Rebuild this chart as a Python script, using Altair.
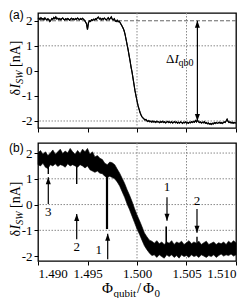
import altair as alt
import pandas as pd

FONT = "Liberation Serif"
SANS = "Liberation Sans"

X_START = 1.490
A_STEP = 0.0001
B_STEP = 0.00025
W, HA, HB = 198, 115, 118

# ---------------- panel (a): single trace, 1.4900 ... 1.5100 step 0.0001
ya_left = [
    2.08, 2.10, 2.05, 2.12, 2.06, 2.09, 2.04, 2.11, 2.07, 2.03,
    2.08, 2.05, 1.97, 2.02, 2.09, 2.06, 2.13, 2.08, 2.15, 2.07,
    2.10, 2.05, 2.09, 2.04, 2.08, 2.11, 2.06, 2.03, 2.08, 2.05,
    2.09, 2.06, 2.02, 2.07, 2.10, 2.05, 2.08, 2.04, 2.09, 2.06,
    2.11, 2.07, 2.04, 2.09, 2.05, 2.10, 2.06, 2.02, 1.95, 1.88,
    1.65, 1.92, 2.00, 1.97, 2.04, 2.01, 2.06, 2.03, 2.08, 2.05,
    2.12, 2.15, 2.07, 2.10, 2.04, 2.09, 2.06, 2.11, 2.07, 2.03,
    2.08, 2.12, 2.05, 2.09, 2.15, 2.06, 2.03, 2.08, 2.00, 1.97,
    2.02, 1.96,
]
ya_step = [
    1.98, 1.92, 1.85, 1.78, 1.70, 1.60, 1.45, 1.25, 1.05, 0.85,
    0.62, 0.40, 0.15, -0.05, -0.30, -0.55, -0.80, -1.00, -1.20, -1.38,
    -1.52, -1.65, -1.75, -1.83, -1.88, -1.92, -1.96, -1.94, -1.99, -2.02,
]
ya_right = [
    -1.98, -2.03, -2.01, -2.05, -2.00, -2.04, -2.02, -2.06, -2.01, -2.04,
    -2.03, -2.07, -2.02, -2.05, -2.01, -2.06, -2.03, -2.08, -2.04, -2.02,
    -2.06, -2.04, -2.07, -2.03, -2.08, -2.05, -2.03, -2.07, -2.04, -2.09,
    -2.05, -2.08, -2.04, -2.06, -2.10, -2.05, -2.07, -2.04, -2.08, -2.06,
    -2.09, -2.05, -2.07, -2.03, -2.06, -2.02, -2.05, -1.98, -2.04, -1.96,
    -2.03, -2.06, -2.04, -2.08, -2.05, -2.07, -2.03, -2.09, -2.06, -2.11,
    -2.08, -2.12, -2.10, -2.14, -2.09, -2.12, -2.07, -2.10, -2.06, -2.09,
    -2.08, -2.05, -2.09, -2.06, -2.10, -2.07, -2.04, -2.06, -2.00, -1.93,
    -2.02, -2.06, -2.04, -2.08, -2.05, -2.09, -2.06, -2.08, -2.07,
]
ya = ya_left + ya_step + ya_right

# ---------------- panel (b): noisy band (upper / lower edge), step 0.00025
b_hi = [
    2.00, 2.10, 1.95, 2.05, 1.90, 2.00, 2.12, 1.95, 2.05, 2.15,
    1.98, 2.08, 2.00, 2.18, 2.05, 1.95, 2.10, 1.98, 2.15, 2.05,
    2.18, 1.95, 2.05, 1.85, 1.90, 1.80, 1.75, 1.60, 1.55, 1.65,
    1.62, 1.55, 1.38, 1.22, 1.02, 0.82, 0.58, 0.36, 0.12, -0.15,
    -0.40, -0.62, -0.85, -1.10, -1.25, -1.38, -1.42, -1.50, -1.40, -1.52,
    -1.45, -1.55, -1.45, -1.50, -1.40, -1.55, -1.45, -1.50, -1.42, -1.55,
    -1.48, -1.40, -1.52, -1.45, -1.50, -1.42, -1.55, -1.48, -1.42, -1.55,
    -1.50, -1.45, -1.55, -1.48, -1.52, -1.45, -1.55, -1.42, -1.50, -1.40,
    -1.48,
]
b_lo = [
    1.55, 1.50, 1.60, 1.45, 1.40, 1.55, 1.50, 1.58, 1.48, 1.55,
    1.52, 1.45, 1.58, 1.50, 1.55, 1.50, 1.45, 1.55, 1.50, 1.42,
    1.50, 1.35, 1.30, 1.25, 1.30, 1.22, 1.20, 1.10, 1.05, 1.10,
    1.05, 1.00, 0.88, 0.72, 0.50, 0.28, 0.02, -0.20, -0.45, -0.70,
    -0.95, -1.15, -1.38, -1.60, -1.75, -1.88, -1.98, -1.95, -2.05, -1.95,
    -2.02, -2.08, -1.95, -2.02, -1.95, -2.05, -1.98, -2.08, -1.95, -2.02,
    -1.98, -2.05, -1.95, -2.02, -1.98, -2.05, -1.95, -2.00, -2.05, -1.98,
    -2.02, -1.95, -2.05, -1.98, -1.92, -2.00, -1.95, -1.98, -1.92, -2.00,
    -1.95,
]

# narrow dips / spikes in panel (b)
spike_x = [1.49104, 1.49391, 1.49697, 1.50295, 1.50606]
spike_from = [1.50, 1.50, 1.30, -1.50, -1.50]
spike_to = [1.19, 0.80, -0.95, -0.85, -1.25]
spike_w = [1.4, 1.4, 2.2, 1.6, 1.4]

# annotation arrows in panel (b)
arr_x = [1.49104, 1.49391, 1.49704, 1.50303, 1.50606]
arr_tail = [0.02, -1.35, -2.12, 0.28, -0.17]
arr_tip = [1.06, -0.37, -1.13, -0.63, -1.09]
arr_dir = ["up", "up", "up", "down", "down"]
lab_text = ["3", "2", "1", "1", "2"]
lab_x = [1.49104, 1.49391, 1.49613, 1.50303, 1.50606]
lab_y = [-0.27, -1.65, -1.76, 0.67, 0.15]

# panel (a) double arrow
a_arrow_x = [1.5061]
a_arrow_top = [2.0]
a_arrow_bot = [-2.0]
a_label_x = 1.50293
a_label_y = 0.32

y_ticks = [-2, -1, 0, 1, 2]
x_ticks = [1.490, 1.495, 1.500, 1.505, 1.510]
a_hgrid = [1, -2]
a_level = [2]
a_vgrid = [1.500, 1.505]
b_hgrid = [2, 1, 0, -1]
b_vgrid = [1.500, 1.505]

xscale = alt.Scale(domain=[1.490, 1.510], nice=False, zero=False)
ya_scale = alt.Scale(domain=[-2.28, 2.31], nice=False, zero=False)
yb_scale = alt.Scale(domain=[-2.19, 2.39], nice=False, zero=False)

UP = "M0,0L-0.36,1L0.36,1Z"
DOWN = "M0,0L-0.36,-1L0.36,-1Z"
GRID = dict(color="#8a8a8a", strokeDash=[1.5, 1.5], strokeWidth=1)
YLABEL = "datum.value < 0 ? '-' + format(-datum.value, 'd') : format(datum.value, 'd')"

XA_AXIS = alt.Axis(values=x_ticks, labels=False, ticks=True, title=None)
XB_AXIS = alt.Axis(values=x_ticks, format=".3f", title=None)
Y_AXIS = alt.Axis(values=y_ticks, labelExpr=YLABEL, title=None)


def X(f, ax):
    return alt.X(f, type="quantitative", scale=xscale, title=None, axis=ax)


def Y(f, sc):
    return alt.Y(f, type="quantitative", scale=sc, title=None, axis=Y_AXIS)


def one():
    return pd.DataFrame({"k": [0]})


def ptext(s, x, y, size, style="normal", angle=0, align="left", baseline="alphabetic", font=FONT):
    return alt.Chart(one()).mark_text(
        text=s, font=font, fontSize=size, fontStyle=style, angle=angle,
        align=align, baseline=baseline, color="black"
    ).encode(x=alt.value(x), y=alt.value(y))


def ytitle(center):
    # rotated title "δI_SW [nA]" built from pieces (reads bottom -> top)
    w_d, w_i, w_sw, w_sp, w_na = 7.0, 4.7, 13.3, 3.5, 26.4
    L = w_d + w_i + w_sw + w_sp + w_na
    y0 = center + L / 2
    return [
        ptext("δ", -18, y0, 14, angle=270),
        ptext("I", -18, y0 - w_d, 14, style="italic", angle=270),
        ptext("SW", -15, y0 - w_d - w_i, 10, style="italic", angle=270),
        ptext("[nA]", -18, y0 - w_d - w_i - w_sw - w_sp, 14, angle=270),
    ]


def hrules(vals, sc, **kw):
    return alt.Chart(pd.DataFrame({"y": vals})).mark_rule(**kw).encode(y=Y("y", sc))


def vrules(vals, ax, **kw):
    return alt.Chart(pd.DataFrame({"x": vals})).mark_rule(**kw).encode(x=X("x", ax))


# ---------------- build panel (a)
a_df = pd.DataFrame({"x": [round(X_START + A_STEP * i, 5) for i in range(len(ya))], "y": ya})
a_line = alt.Chart(a_df).mark_line(color="black", strokeWidth=1.1).encode(
    x=X("x", XA_AXIS), y=Y("y", ya_scale))
arrow_a_df = pd.DataFrame({"x": a_arrow_x, "top": a_arrow_top, "bot": a_arrow_bot})
a_shaft = alt.Chart(arrow_a_df).mark_rule(color="black", strokeWidth=1.2).encode(
    x=X("x", XA_AXIS), y=Y("top", ya_scale), y2="bot:Q")
a_head_up = alt.Chart(arrow_a_df).mark_point(shape=UP, filled=True, size=196, opacity=1,
                                              color="black", strokeWidth=0).encode(
    x=X("x", XA_AXIS), y=Y("top", ya_scale))
a_head_dn = alt.Chart(arrow_a_df).mark_point(shape=DOWN, filled=True, size=196, opacity=1,
                                              color="black", strokeWidth=0).encode(
    x=X("x", XA_AXIS), y=Y("bot", ya_scale))
lab_a_df = pd.DataFrame({"x": [a_label_x], "y": [a_label_y]})


def alab(s, dx, dy, size, style):
    return alt.Chart(lab_a_df).mark_text(text=s, font=FONT, fontSize=size, fontStyle=style,
                                         align="left", baseline="alphabetic", dx=dx, dy=dy,
                                         color="black").encode(
        x=X("x", XA_AXIS), y=Y("y", ya_scale))


panel_a = alt.layer(
    a_line,
    hrules(a_hgrid, ya_scale, **GRID),
    vrules(a_vgrid, XA_AXIS, **GRID),
    hrules(a_level, ya_scale, color="#666666", strokeDash=[4, 2], strokeWidth=1),
    a_line,
    a_shaft, a_head_up, a_head_dn,
    alab("Δ", 0, 0, 13, "normal"),
    alab("I", 8.5, 0, 13, "italic"),
    alab("qb0", 12.5, 3, 10, "normal"),
    *ytitle(55),
    ptext("(a)", -29, -3, 12, baseline="top", font=SANS),
).properties(width=W, height=HA)

# ---------------- build panel (b)
b_df = pd.DataFrame({"x": [round(X_START + B_STEP * i, 5) for i in range(len(b_hi))],
                     "hi": b_hi, "lo": b_lo})
b_band = alt.Chart(b_df).mark_area(color="black", stroke="black", strokeWidth=0.6).encode(
    x=X("x", XB_AXIS), y=Y("lo", yb_scale), y2="hi:Q")
spk_df = pd.DataFrame({"x": spike_x, "a": spike_from, "b": spike_to, "w": spike_w})
b_spikes = alt.Chart(spk_df).mark_rule(color="black").encode(
    x=X("x", XB_AXIS), y=Y("a", yb_scale), y2="b:Q",
    strokeWidth=alt.StrokeWidth("w:Q", scale=None))
arr_df = pd.DataFrame({"x": arr_x, "tail": arr_tail, "tip": arr_tip, "dir": arr_dir})
b_shafts = alt.Chart(arr_df).mark_rule(color="black", strokeWidth=1.2).encode(
    x=X("x", XB_AXIS), y=Y("tail", yb_scale), y2="tip:Q")
b_heads_up = alt.Chart(arr_df[arr_df["dir"] == "up"]).mark_point(
    shape=UP, filled=True, size=196, opacity=1, color="black", strokeWidth=0).encode(
    x=X("x", XB_AXIS), y=Y("tip", yb_scale))
b_heads_dn = alt.Chart(arr_df[arr_df["dir"] == "down"]).mark_point(
    shape=DOWN, filled=True, size=196, opacity=1, color="black", strokeWidth=0).encode(
    x=X("x", XB_AXIS), y=Y("tip", yb_scale))
lab_df = pd.DataFrame({"x": lab_x, "y": lab_y, "t": lab_text})
b_labels = alt.Chart(lab_df).mark_text(font=FONT, fontSize=13, align="center",
                                       baseline="middle", color="black").encode(
    x=X("x", XB_AXIS), y=Y("y", yb_scale), text="t:N")

XT = HB + 32
panel_b = alt.layer(
    hrules(b_hgrid, yb_scale, **GRID),
    vrules(b_vgrid, XB_AXIS, **GRID),
    b_band, b_spikes,
    b_shafts, b_heads_up, b_heads_dn, b_labels,
    *ytitle(66),
    ptext("(b)", -29, 0, 12, baseline="top", font=SANS),
    ptext("Φ", 64, XT, 15),
    ptext("qubit", 75.5, XT + 4, 11),
    ptext("/", 99, XT, 15),
    ptext("Φ", 105, XT, 15),
    ptext("0", 116.5, XT + 4, 11),
).properties(width=W, height=HB)

chart = alt.vconcat(panel_a, panel_b, spacing=15).properties(
    bounds="flush", padding=0
).configure_view(
    stroke="black", strokeWidth=1.3
).configure_axis(
    grid=False, domain=False, ticks=True, tickSize=4, tickWidth=1, tickColor="black",
    labelFont=FONT, labelFontSize=13, labelColor="black", labelPadding=2,
)

chart.save("out.html", embed_options={"renderer": "svg", "actions": False})
